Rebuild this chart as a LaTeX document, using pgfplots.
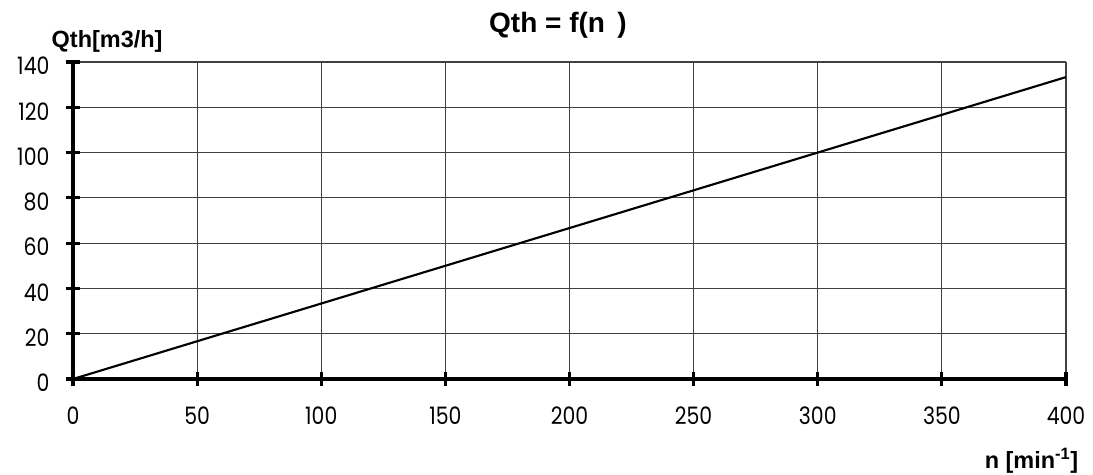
\documentclass[border=0pt]{standalone}
\usepackage{fontspec}
\setmainfont{Liberation Sans}
\newfontfamily\tickfont[FakeStretch=0.85]{Poppins}
\usepackage{pgfplots}
\pgfplotsset{compat=1.18}
\begin{document}
\begin{tikzpicture}
\useasboundingbox (-54.75pt,-72pt) rectangle (765pt,284.25pt);
\begin{axis}[
  scale only axis, width=744.75pt, height=237.75pt,
  xmin=0, xmax=400, ymin=0, ymax=140,
  xtick={0,50,...,400}, ytick={0,20,...,140},
  axis x line*=bottom, axis y line*=left,
  axis line style={line width=2.6pt,-},
  grid=major, major grid style={line width=0.8pt, black!75},
  tick align=center, major tick length=11pt,
  major tick style={line width=2.4pt, black},
  /pgf/number format/assume math mode=true,
  ticklabel style={font=\tickfont\fontsize{18}{18}\selectfont},
  yticklabel style={anchor=east, inner sep=0pt, yshift=-3pt},
  yticklabel shift=12pt,
  xticklabel style={anchor=north, inner sep=0pt},
  xticklabel shift=15.5pt,
  title={Qth = f(n\, )},
  every axis title/.style={at={(axis description cs:0.4884,1.0946)}, anchor=base, font=\bfseries\fontsize{21}{21}\selectfont},
  ylabel={Qth[m3/h]},
  every axis y label/.style={at={(axis description cs:-0.0262,1.0473)}, anchor=base west, font=\bfseries\fontsize{17.6}{17.6}\selectfont},
  xlabel={n [min\textsuperscript{-1}]},
  every axis x label/.style={at={(axis description cs:1.0171,-0.2808)}, anchor=base east, font=\bfseries\fontsize{17.6}{17.6}\selectfont},
  clip=false,
]
\addplot[black, line width=1.6pt] coordinates {
  (0,0) (50,16.667) (100,33.333) (150,50) (200,66.667) (250,83.333) (300,100) (350,116.667) (400,133.333)
};
\end{axis}
\end{tikzpicture}
\end{document}
